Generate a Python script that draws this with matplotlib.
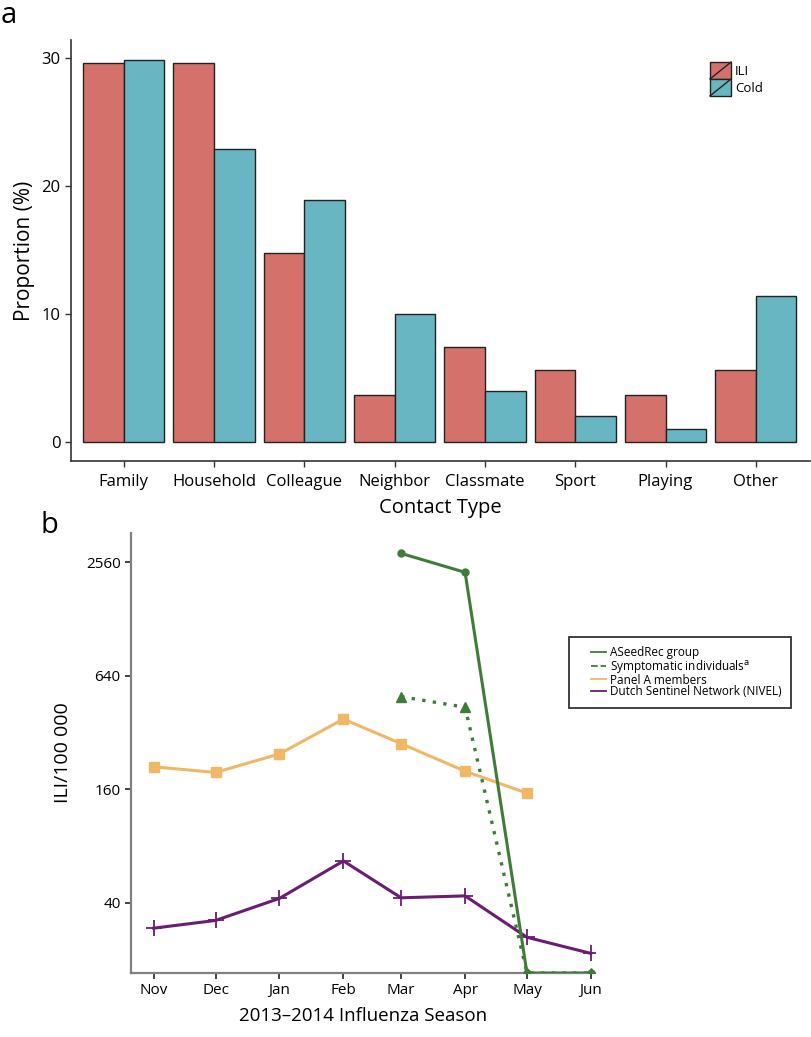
import datetime as dt
import numpy as np
import matplotlib
matplotlib.use("Agg")
import matplotlib.pyplot as plt
from matplotlib.patches import Rectangle, Patch
from matplotlib.lines import Line2D
from matplotlib.legend_handler import HandlerPatch, HandlerBase
from matplotlib.ticker import FixedLocator, FixedFormatter, NullLocator

plt.rcParams['font.family'] = ['Open Sans', 'DejaVu Sans']

# panel a data
contact_types = ['Family', 'Household', 'Colleague', 'Neighbor', 'Classmate', 'Sport', 'Playing', 'Other']
ili_pct = [29.6, 29.6, 14.8, 3.7, 7.4, 5.6, 3.7, 5.6]
cold_pct = [29.8, 22.9, 18.9, 10.0, 4.0, 2.0, 1.0, 11.4]

# panel b data (May/Jun zeros shown on the axis floor)
months = ['Nov', 'Dec', 'Jan', 'Feb', 'Mar', 'Apr', 'May', 'Jun']
month_dates = [dt.date(2013, 11, 1), dt.date(2013, 12, 1), dt.date(2014, 1, 1), dt.date(2014, 2, 1),
               dt.date(2014, 3, 1), dt.date(2014, 4, 1), dt.date(2014, 5, 1), dt.date(2014, 6, 1)]
floor_val = 17.0
aseedrec = [None, None, None, None, 2860, 2270, floor_val, floor_val]
symptomatic = [None, None, None, None, 497, 437, floor_val, floor_val]
panel_a = [211, 197, 247, 378, 280, 200, 153, None]
nivel = [29.4, 32.3, 42.3, 66.8, 42.6, 43.6, 26.3, 21.6]

ILI_COL = '#D4716A'
COLD_COL = '#67B6C1'
GREEN = '#3E7D38'
ORANGE = '#F0B866'
PURPLE = '#6B1C73'


class DiagonalHandler(HandlerPatch):
    # square key with a diagonal stroke, like ggplot's bar legend
    def create_artists(self, legend, orig_handle, xdescent, ydescent, width, height, fontsize, trans):
        r = Rectangle((-xdescent, -ydescent), width, height, facecolor=orig_handle.get_facecolor(),
                      edgecolor='#222222', lw=1.0, transform=trans)
        l = Line2D([-xdescent, -xdescent + width], [-ydescent, -ydescent + height],
                   color='#222222', lw=1.0, transform=trans)
        return [r, l]


class ShortLineHandler(HandlerBase):
    # draws the key line only on the right part of the handle box
    def create_artists(self, legend, orig_handle, xdescent, ydescent, width, height, fontsize, trans):
        y = height / 2 - ydescent
        l = Line2D([-xdescent + width * 0.48, -xdescent + width], [y, y],
                   color=orig_handle.get_color(), lw=orig_handle.get_linewidth(),
                   ls=orig_handle.get_linestyle(), transform=trans)
        return [l]


fig = plt.figure(figsize=(8.12, 10.37), dpi=100)

# ---- panel a ----
ax1 = fig.add_axes([71 / 812, 1 - 461 / 1037, 739 / 812, 421 / 1037])
x = np.arange(len(contact_types))
w = 0.45
ax1.bar(x - w / 2, ili_pct, width=w, color=ILI_COL, edgecolor='#222222', lw=1.0)
ax1.bar(x + w / 2, cold_pct, width=w, color=COLD_COL, edgecolor='#222222', lw=1.0)
ax1.set_xlim(-0.585, 7.6)
ax1.set_ylim(-1.48, 31.4)
ax1.set_xticks(x)
ax1.set_xticklabels(contact_types, fontsize=12)
ax1.set_yticks([0, 10, 20, 30])
ax1.tick_params(axis='y', labelsize=12, length=4, color='#333333', width=1.0)
ax1.tick_params(axis='x', length=4, color='#333333', width=1.0, pad=5)
for s in ['top', 'right']:
    ax1.spines[s].set_visible(False)
for s in ['left', 'bottom']:
    ax1.spines[s].set_color('#333333')
    ax1.spines[s].set_linewidth(1.2)
ax1.set_xlabel('Contact Type', fontsize=14.5, labelpad=6)
ax1.set_ylabel('Proportion (%)', fontsize=15, labelpad=5)

handles = [Patch(facecolor=ILI_COL), Patch(facecolor=COLD_COL)]
fig.legend(handles, ['ILI', 'Cold'], handler_map={Patch: DiagonalHandler()},
           loc='upper left', bbox_to_anchor=(710 / 812, 1 - 62 / 1037), bbox_transform=fig.transFigure,
           frameon=False, fontsize=9.5, handlelength=1.6, handleheight=1.6, labelspacing=0,
           handletextpad=0.3, borderpad=0, borderaxespad=0)

fig.text(1 / 812, 1 - 1 / 1037, 'a', fontsize=21, va='top', ha='left')
fig.text(41 / 812, 1 - 511 / 1037, 'b', fontsize=21, va='top', ha='left')

# ---- panel b ----
ax2 = fig.add_axes([131 / 812, 1 - 973 / 1037, 464 / 812, 440 / 1037])
ax2.set_yscale('log', base=2)


def series(vals):
    d = [month_dates[i] for i, v in enumerate(vals) if v is not None]
    v = [v for v in vals if v is not None]
    return d, v


d, v = series(panel_a)
ax2.plot(d, v, color=ORANGE, lw=2.2, marker='s', ms=6.5, zorder=3)
d, v = series(nivel)
ax2.plot(d, v, color=PURPLE, lw=2.2, marker='+', ms=11, mew=1.3, zorder=3)
d, v = series(symptomatic)
ax2.plot(d, v, color=GREEN, lw=2.4, ls=(0, (1, 2.2)), marker='^', ms=7, zorder=4)
d, v = series(aseedrec)
ax2.plot(d, v, color=GREEN, lw=2.2, marker='o', ms=5, zorder=4)

ax2.set_ylim(floor_val, 3670)
ax2.set_xlim(dt.date(2013, 10, 21), dt.date(2014, 6, 3))
ax2.yaxis.set_major_locator(FixedLocator([40, 160, 640, 2560]))
ax2.yaxis.set_major_formatter(FixedFormatter(['40', '160', '640', '2560']))
ax2.yaxis.set_minor_locator(NullLocator())
ax2.set_xticks(month_dates)
ax2.set_xticklabels(months)
ax2.tick_params(axis='both', labelsize=11, length=4, color='#222222', width=1.2)
for s in ['top', 'right']:
    ax2.spines[s].set_visible(False)
for s in ['left', 'bottom']:
    ax2.spines[s].set_color('#808080')
    ax2.spines[s].set_linewidth(1.6)
ax2.set_xlabel('2013\u20132014 Influenza Season', fontsize=13.5, labelpad=6)
ax2.set_ylabel('ILI/100 000', fontsize=14, labelpad=10)

leg_handles = [Line2D([], [], color=GREEN, lw=1.3),
               Line2D([], [], color=GREEN, lw=1.3, ls=(0, (2, 1.5))),
               Line2D([], [], color=ORANGE, lw=1.3),
               Line2D([], [], color=PURPLE, lw=1.3)]
leg_labels = ['ASeedRec group', 'Symptomatic individuals$^{\\mathrm{a}}$', 'Panel A members',
              'Dutch Sentinel Network (NIVEL)']
lg = fig.legend(leg_handles, leg_labels, handler_map={Line2D: ShortLineHandler()},
                loc='upper left', bbox_to_anchor=(569 / 812, 1 - 637 / 1037),
                bbox_transform=fig.transFigure, fontsize=8.5, frameon=True, fancybox=False,
                edgecolor='black', handlelength=2.3, handletextpad=0.35, labelspacing=-0.12,
                borderpad=0.8, borderaxespad=0)
lg.get_frame().set_linewidth(1.3)

fig.savefig('out.png', dpi=100)
